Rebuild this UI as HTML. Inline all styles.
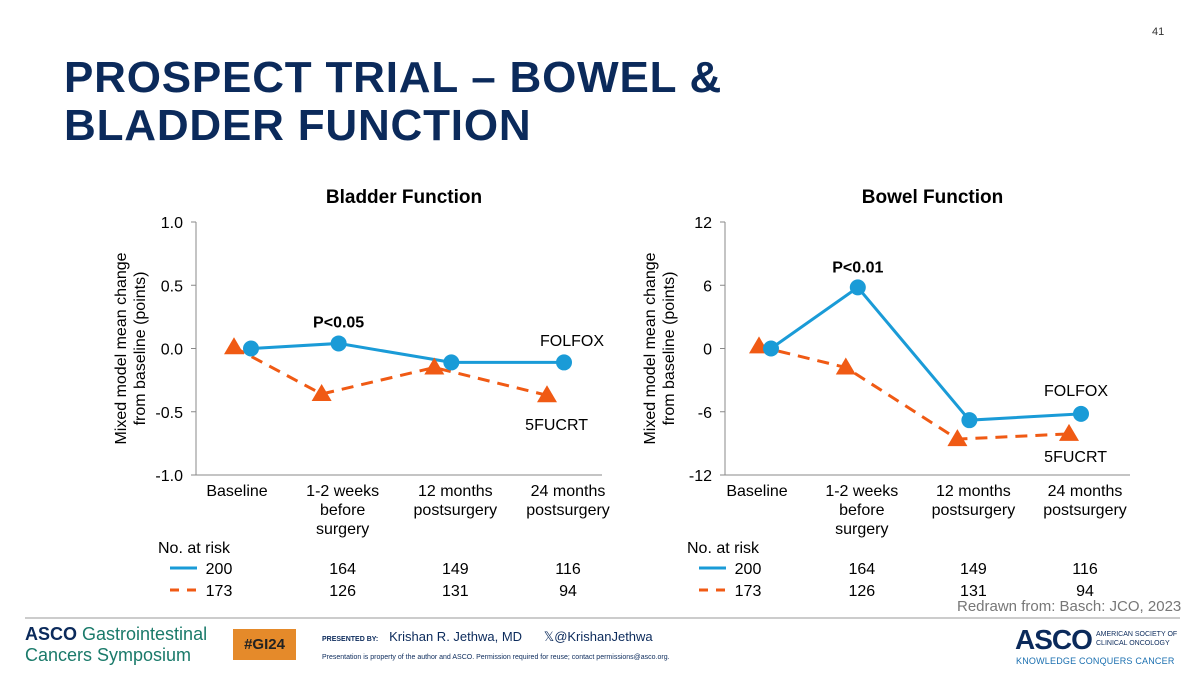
<!DOCTYPE html>
<html><head><meta charset="utf-8"><style>
body{margin:0;width:1200px;height:675px;background:#fff;overflow:hidden;position:relative;font-family:"Liberation Sans",Arial,sans-serif}
.abs{position:absolute}
</style></head><body>
<div class="abs" style="left:1152px;top:26px;font-size:11px;color:#333">41</div>
<div class="abs" style="left:64px;top:54px;font-size:44px;font-weight:bold;color:#0b2a5b;line-height:48px;letter-spacing:0.8px">PROSPECT TRIAL – BOWEL &amp;<br>BLADDER FUNCTION</div>
<svg id="charts" class="abs" style="left:0;top:0" width="1200" height="610"></svg>
<div class="abs" style="left:957px;top:598px;font-size:15px;color:#777">Redrawn from: Basch: JCO, 2023</div>
<div class="abs" style="left:25px;top:617px;width:1155px;height:2px;background:#ccc"></div>
<div class="abs" style="left:25px;top:624px;font-size:18px;color:#1a7a6a;line-height:21px"><b style="color:#0b2a5b">ASCO</b> Gastrointestinal<br>Cancers Symposium</div>
<div class="abs" style="left:233px;top:629px;width:63px;height:31px;background:#e58a2a;color:#222;font-weight:bold;font-size:15px;text-align:center;line-height:31px">#GI24</div>
<div class="abs" style="left:322px;top:629px;font-size:13px;color:#0b2a5b"><span style="font-size:7px;font-weight:bold">PRESENTED BY:</span>&nbsp;&nbsp; Krishan R. Jethwa, MD &nbsp;&nbsp;&nbsp;&nbsp; 𝕏@KrishanJethwa</div>
<div class="abs" style="left:322px;top:654px;font-size:7px;color:#0b2a5b">Presentation is property of the author and ASCO. Permission required for reuse; contact permissions@asco.org.</div>
<div class="abs" style="left:1015px;top:624px;font-size:28px;font-weight:bold;color:#0b2a5b;letter-spacing:-1px">ASCO</div>
<div class="abs" style="left:1096px;top:630px;font-size:7px;color:#0b2a5b;line-height:9px">AMERICAN SOCIETY OF<br>CLINICAL ONCOLOGY</div>
<div class="abs" style="left:1016px;top:656px;font-size:9px;color:#1a6fb0;letter-spacing:0.2px">KNOWLEDGE CONQUERS CANCER</div>
<script>
const categories = ["Baseline","1-2 weeks|before|surgery","12 months|postsurgery","24 months|postsurgery"];
const bladderFolfox = [0.0, 0.04, -0.11, -0.11];
const bladder5fucrt = [0.01, -0.36, -0.15, -0.37];
const bowelFolfox = [0.0, 5.8, -6.8, -6.2];
const bowel5fucrt = [0.2, -1.8, -8.6, -8.1];
const bladderTicks = ["1.0","0.5","0.0","-0.5","-1.0"];
const bowelTicks = ["12","6","0","-6","-12"];
const riskFolfox = [200,164,149,116];
const risk5fucrt = [173,126,131,94];

const svg = document.getElementById('charts');
const NS = 'http://www.w3.org/2000/svg';
function mk(tag, attrs, parent){const e=document.createElementNS(NS,tag);for(const k in attrs)e.setAttribute(k,attrs[k]);(parent||svg).appendChild(e);return e;}
function txt(x,y,s,size,anchor,bold,parent){const t=mk('text',{x:x,y:y,'font-size':size,'text-anchor':anchor||'middle','font-family':'Liberation Sans, Arial, sans-serif','fill':'#000','font-weight':bold?'bold':'normal'},parent);t.textContent=s;return t;}

function chart(cfg){
  const g = mk('g',{});
  
  
  const x0=cfg.x0, yTop=222, yBot=475, xEnd=cfg.xEnd, vmax=cfg.vmax;
  const y = v => yTop + (vmax - v)/(2*vmax)*(yBot-yTop);
  const frac = [0,0.28,0.64,1];
  const xs = (i,off) => cfg.first + off + frac[i]*(cfg.last-cfg.first);
  const tt = txt((x0+xEnd)/2+5,203,cfg.title,19,'middle',true,g);
  
  
  mk('line',{x1:x0,y1:yTop,x2:x0,y2:yBot,stroke:'#888','stroke-width':1},g);
  mk('line',{x1:x0,y1:yBot,x2:xEnd,y2:yBot,stroke:'#888','stroke-width':1},g);
  cfg.ticks.forEach((t,i)=>{
    const v = vmax - i*vmax/2;
    mk('line',{x1:x0-5,y1:y(v),x2:x0,y2:y(v),stroke:'#888'},g);
    const l=txt(x0-13,y(v)+6,t,16,'end',false,g);
    
    
  });
  const yl = mk('text',{transform:`translate(${cfg.ylx},${(yTop+yBot)/2}) rotate(-90)`,'font-size':16,'text-anchor':'middle','font-family':'Liberation Sans, Arial, sans-serif'},g);
  
  
  const a=mk('tspan',{x:0,dy:-2},yl);a.textContent='Mixed model mean change';
  const b=mk('tspan',{x:0,dy:19},yl);b.textContent='from baseline (points)';
  categories.forEach((c,i)=>{
    const cx = xs(i, i===0 ? -14 : 4);
    c.split('|').forEach((ln,j)=>{const l=txt(cx,496+j*19,ln,16,'middle',false,g);
      
      });
  });
  const op = cfg.orange.map((v,i)=>[xs(i,cfg.oOff),y(v)]);
  const ol = mk('polyline',{points:op.map(p=>p.join(',')).join(' '),fill:'none',stroke:'#f05a14','stroke-width':3,'stroke-dasharray':'12,8'},g);
  
  
  const bp = cfg.blue.map((v,i)=>[xs(i,0),y(v)]);
  const bl = mk('polyline',{points:bp.map(p=>p.join(',')).join(' '),fill:'none',stroke:'#1a9bd7','stroke-width':3},g);
  
  
  op.forEach(p=>{const t=mk('polygon',{points:`${p[0]},${p[1]-10} ${p[0]-10},${p[1]+7} ${p[0]+10},${p[1]+7}`,fill:'#f05a14'},g);
    
    });
  bp.forEach(p=>{const c=mk('circle',{cx:p[0],cy:p[1],r:8,fill:'#1a9bd7'},g);
    
    });
  const pv=txt(bp[1][0],bp[1][1]-cfg.pOff,cfg.p,16,'middle',true,g);
  
  
  const f=txt(cfg.folX,cfg.folY,'FOLFOX',16,'end',false,g);
  
  
  const r=txt(cfg.fuX,cfg.fuY,'5FUCRT',16,'end',false,g);
  
  
  const nr=txt(x0-38,553,'No. at risk',16,'start',false,g);
  
  
  mk('line',{x1:x0-26,y1:568,x2:x0+1,y2:568,stroke:'#1a9bd7','stroke-width':3},g);
  mk('line',{x1:x0-26,y1:590,x2:x0+6,y2:590,stroke:'#f05a14','stroke-width':3,'stroke-dasharray':'9,8'},g);
  riskFolfox.forEach((v,i)=>{const l=txt(i===0?cfg.x0+23:xs(i,4),574,String(v),16,'middle',false,g);
    
    });
  risk5fucrt.forEach((v,i)=>{const l=txt(i===0?cfg.x0+23:xs(i,4),596,String(v),16,'middle',false,g);
    
    });
}
chart({name:'bladder-chart',title:'Bladder Function',x0:196,xEnd:602,vmax:1,first:251,last:564,oOff:-17,
  blue:bladderFolfox,orange:bladder5fucrt,ticks:bladderTicks,ylx:128,p:'P<0.05',pOff:16,folX:604,folY:346,fuX:588,fuY:430});
chart({name:'bowel-chart',title:'Bowel Function',x0:725,xEnd:1130,vmax:12,first:771,last:1081,oOff:-12,
  blue:bowelFolfox,orange:bowel5fucrt,ticks:bowelTicks,ylx:657,p:'P<0.01',pOff:15,folX:1108,folY:396,fuX:1107,fuY:462});
</script>
</body></html>
